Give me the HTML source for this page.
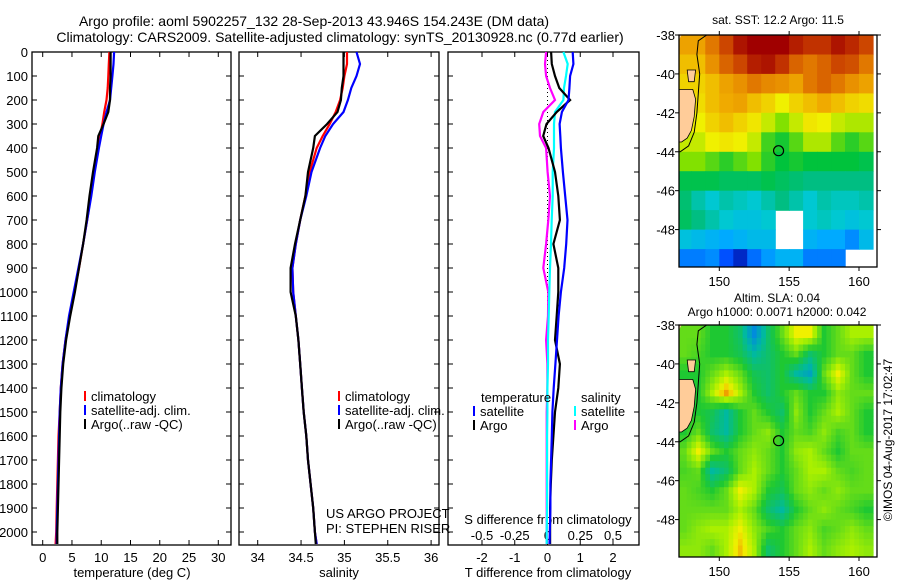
<!DOCTYPE html>
<html><head><meta charset="utf-8"><style>
body{margin:0;background:#fff;}
svg text{font-family:"Liberation Sans",sans-serif;fill:#000;}
</style></head><body>
<svg id="fig" width="900" height="580" viewBox="0 0 900 580" xmlns="http://www.w3.org/2000/svg">
<text x="314" y="26" font-size="14" text-anchor="middle">Argo profile: aoml 5902257_132 28-Sep-2013 43.946S 154.243E (DM data)</text>
<text x="340" y="42" font-size="14" text-anchor="middle">Climatology: CARS2009. Satellite-adjusted climatology: synTS_20130928.nc (0.77d earlier)</text>
<g id="g"></g>
</svg>
<script>
// ---- profile data ----
const depths=[0,50,100,150,200,250,300,350,400,500,600,700,800,900,1000,1100,1200,1300,1400,1500,1600,1700,1800,1900,2000,2050];
const tClim=[11.4,11.3,11.2,11.1,10.9,10.5,10.2,9.8,9.4,8.8,8.2,7.6,6.9,6.2,5.4,4.6,3.9,3.4,3.1,2.9,2.7,2.6,2.5,2.4,2.3,2.2];
const tSat=[12.2,12.1,11.9,11.7,11.5,10.9,10.4,10.0,9.6,8.9,8.3,7.6,6.9,6.1,5.3,4.5,3.9,3.4,3.1,2.9,2.8,2.7,2.6,2.5,2.4,2.4];
const tArgo=[11.6,11.6,11.6,11.5,11.5,11.2,10.4,9.5,9.3,8.6,8.0,7.5,6.9,6.2,5.5,4.7,4.0,3.5,3.2,3.0,2.9,2.8,2.7,2.6,2.5,2.5];
const sClim=[35.03,35.03,35.0,34.98,34.95,34.9,34.83,34.75,34.68,34.6,34.55,34.49,34.44,34.4,34.41,34.44,34.47,34.49,34.51,34.53,34.56,34.58,34.61,34.64,34.66,34.68];
const sSat=[35.14,35.18,35.14,35.08,35.04,34.99,34.87,34.78,34.72,34.62,34.56,34.49,34.44,34.4,34.41,34.44,34.47,34.49,34.51,34.53,34.56,34.58,34.61,34.64,34.66,34.68];
const sArgo=[34.99,34.99,34.99,34.97,34.96,34.92,34.80,34.66,34.64,34.58,34.55,34.49,34.43,34.38,34.38,34.44,34.47,34.49,34.51,34.53,34.56,34.58,34.61,34.64,34.66,34.67];
// ---- difference data ----
const dDepths=[0,50,100,150,200,250,300,350,400,500,600,700,800,900,1000,1100,1200,1300,1400,1500,1600,1700,1800,1900,2000,2050];
const dTSat=[0.77,0.79,0.69,0.67,0.64,0.44,0.37,0.39,0.41,0.47,0.54,0.61,0.57,0.51,0.41,0.34,0.29,0.24,0.19,0.15,0.13,0.11,0.09,0.09,0.07,0.06];
const dTArgo=[0.11,0.13,0.23,0.36,0.69,0.28,-0.03,-0.13,0.03,0.23,0.33,0.38,0.18,0.33,0.33,0.28,0.23,0.38,0.33,0.23,0.18,0.13,0.10,0.08,0.08,0.08];
const dSSat=[0.121,0.154,0.141,0.126,0.121,0.057,0.050,0.050,0.050,0.040,0.040,0.032,0.027,0.019,0.014,0.009,0.004,0.004,-0.001,-0.001,-0.003,-0.003,-0.003,-0.003,-0.006,-0.006];
const dSArgo=[-0.011,-0.019,-0.011,0.019,0.057,-0.032,-0.063,-0.057,-0.011,0.001,0.019,0.006,-0.011,-0.032,0.006,0.004,-0.011,-0.001,-0.001,-0.006,-0.006,-0.006,-0.006,-0.006,-0.006,-0.006];
// ---- map data ----
const mapLons=[147,148,149,150,151,152,153,154,155,156,157,158,159,160,161];
const mapLats=[-38,-39,-40,-41,-42,-43,-44,-45,-46,-47,-48,-49,-50];
const sst=[
[13.3,13.3,13.8,14.3,14.8,15,15,15,14.7,14.5,14.5,14.8,14.6,14.3],
[13,13,13.5,14,14.3,14.7,14.8,14.5,14,13.8,14,14.3,14.2,13.8],
[12.8,12.8,13,13.3,13.5,13.8,13.6,13.5,13.3,13.8,14,13.8,13.5,13.3],
[12.7,12.7,13,13.2,13.3,13,12.8,12.5,12.8,13,13.2,13,12.8,12.7],
[12.5,12.5,12.8,13,12.8,12.6,12.3,12,12.3,12.6,12.5,12.3,12.2,12.2],
[12.3,12.3,12.5,12.6,12.5,12.3,11.7,11.5,11.8,12.2,12.2,11.8,11.6,11.8],
[12,12,11.8,11.6,11.8,12,11.6,11.4,11.5,11.4,11.4,11.4,11.4,11.3],
[11.3,11.3,11.3,11.2,11.2,11.2,11.3,11.2,11.1,11,11,11,11,11],
[11.1,10.8,10.6,10.8,10.7,10.6,10.8,11,10.8,10.6,10.8,10.7,10.7,10.8],
[11.2,11,10.8,10.6,10.5,10.5,10.6,null,null,10.6,10.7,10.6,10.5,10.6],
[10.5,10.4,10.3,10.2,10.3,10.4,10.4,null,null,10.3,10.2,10.2,10,10.4],
[9.9,9.9,10,9.6,9.4,9.8,10.1,10.3,10.3,9.9,9.9,9.9,null,null]];
const sla=[
[0.5,0.5,0,0,-0.5,-2,-0.5,0.5,1.5,1.5,0,0.5,1,1],
[0.5,0.3,0,0,-0.3,-1,-0.5,0,0.5,-0.5,0,0.5,0.5,0],
[0,0,0.5,1,0.5,-0.3,-0.5,0,-1,-1.5,0.5,1.5,0.5,0],
[0,0,1,2,1,0,-0.5,0,0.5,0,0,0.8,0.5,0.5],
[0,0,-0.3,-1,0,0.5,0,-0.5,0.8,0,0.5,1,0.5,0],
[0,0.5,-0.5,-1,0,0.5,0.8,0,0.5,0.3,0.8,0.3,0.5,0],
[0.5,1.5,0.5,0,0.5,0.8,0.5,0,0.8,1,0.5,0,0.5,0.5],
[0.3,0.5,-1,-0.5,0.5,1,0.5,0,0.5,1,1,0.5,0.3,0.5],
[0.5,0.3,0,0.5,1.5,1,0,-0.3,0.5,0.8,0.5,0.8,0.5,0.5],
[0.5,0.5,0.5,0.5,1,0.5,-0.5,-1,0,0.5,0.8,0.5,0.3,0],
[0.5,0.8,1,1,1.5,0.8,0.3,0,0.5,0.8,0.3,0.5,0.8,0.5],
[0.8,0.8,0.5,1,1.8,1,-0.5,0,0.5,1,0.5,0.8,1,0.8]];
const argoLon=154.243, argoLat=-43.946;

const NS='http://www.w3.org/2000/svg';
const G=document.getElementById('g');
function mk(tag,at,parent){const e=document.createElementNS(NS,tag);for(const k in at)e.setAttribute(k,at[k]);(parent||G).appendChild(e);return e;}
function txt(x,y,s,anchor,size,parent){const t=mk('text',{x:x,y:y,'font-size':size||13,'text-anchor':anchor||'middle'},parent);t.textContent=s;return t;}

const pTop=52,pBot=545;
const dY=d=>pTop+d*0.24;

function panel(x0,x1,name){
  const g=mk('g',{});
  
  
  const r=mk('rect',{x:x0,y:pTop,width:x1-x0,height:pBot-pTop,fill:'none',stroke:'#000','stroke-width':1.3},g);
  
  
  for(let d=0;d<=2000;d+=100){
    mk('line',{x1:x0,x2:x0+5,y1:dY(d),y2:dY(d),stroke:'#000'},g);
    mk('line',{x1:x1-5,x2:x1,y1:dY(d),y2:dY(d),stroke:'#000'},g);
  }
  return g;
}
const ya=mk('g',{});


for(let d=0;d<=2000;d+=100){txt(28,dY(d)+5,String(d),'end',13,ya);}

function line(g,xs,ds,sx,col,w,name){
  const p=xs.map((v,i)=>(i?'L':'M')+sx(v).toFixed(1)+','+dY(ds[i]).toFixed(1)).join('');
  const e=mk('path',{d:p,fill:'none',stroke:col,'stroke-width':w},g);
  
  
}
function legend(g,x,y,col,label,name){
  mk('rect',{x:x,y:y-10,width:2,height:10,fill:col},g);
  const t=txt(x+7,y,label,'start',13,g);
  
  
}

// Panel 1 temperature
const p1=panel(32,231,'temperature-panel');
const sxT=v=>42.7+v*5.853;
[0,5,10,15,20,25,30].forEach(v=>{mk('line',{x1:sxT(v),x2:sxT(v),y1:pTop,y2:pTop+5,stroke:'#000'},p1);mk('line',{x1:sxT(v),x2:sxT(v),y1:pBot-5,y2:pBot,stroke:'#000'},p1);txt(sxT(v),562,String(v),'middle',13,p1);});
txt(132,577,'temperature (deg C)','middle',13,p1);
line(p1,tClim,depths,sxT,'#f00',2.2,'temperature-climatology-line');
line(p1,tSat,depths,sxT,'#00f',2.2,'temperature-satellite-line');
line(p1,tArgo,depths.slice(0,tArgo.length),sxT,'#000',2.2,'temperature-argo-line');
legend(p1,84,401,'#f00','climatology','legend-climatology');
legend(p1,84,415,'#00f','satellite-adj. clim.','legend-satellite');
legend(p1,84,429,'#000','Argo(..raw -QC)','legend-argo');

// Panel 2 salinity
const p2=panel(239,439,'salinity-panel');
const sxS=v=>257.7+(v-34)*86.7;
[34,34.5,35,35.5,36].forEach(v=>{mk('line',{x1:sxS(v),x2:sxS(v),y1:pTop,y2:pTop+5,stroke:'#000'},p2);mk('line',{x1:sxS(v),x2:sxS(v),y1:pBot-5,y2:pBot,stroke:'#000'},p2);txt(sxS(v),562,String(v),'middle',13,p2);});
txt(339,577,'salinity','middle',13,p2);
line(p2,sClim,depths,sxS,'#f00',2.2,'salinity-climatology-line');
line(p2,sSat,depths,sxS,'#00f',2.2,'salinity-satellite-line');
line(p2,sArgo,depths,sxS,'#000',2.2,'salinity-argo-line');
legend(p2,338,401,'#f00','climatology','legend-climatology-2');
legend(p2,338,415,'#00f','satellite-adj. clim.','legend-satellite-2');
legend(p2,338,429,'#000','Argo(..raw -QC)','legend-argo-2');
txt(326,518,'US ARGO PROJECT','start',13,p2);
txt(326,533,'PI: STEPHEN RISER','start',13,p2);

// Panel 3 differences
const p3=panel(448,639,'difference-panel');
const sxD=v=>547.5+v*32.75;
const sxDS=v=>547.5+v*131;
[-2,-1,0,1,2].forEach(v=>{mk('line',{x1:sxD(v),x2:sxD(v),y1:pTop,y2:pTop+5,stroke:'#000'},p3);mk('line',{x1:sxD(v),x2:sxD(v),y1:pBot-5,y2:pBot,stroke:'#000'},p3);txt(sxD(v),562,String(v),'middle',13,p3);});
['-0.5','-0.25','0','0.25','0.5'].forEach(s=>{txt(sxDS(parseFloat(s)),540,s,'middle',13,p3);});
txt(548,524,'S difference from climatology','middle',13,p3);
txt(548,577,'T difference from climatology','middle',13,p3);
mk('line',{x1:547.5,x2:547.5,y1:pTop,y2:dY(1400),stroke:'#000','stroke-dasharray':'1,3'},p3);
line(p3,dSArgo,dDepths,sxDS,'#f0f',2.2,'salinity-argo-difference-line');
line(p3,dSSat,dDepths,sxDS,'#0ff',2.2,'salinity-satellite-difference-line');
line(p3,dTArgo,dDepths,sxD,'#000',2.2,'temperature-argo-difference-line');
line(p3,dTSat,dDepths,sxD,'#00f',2.2,'temperature-satellite-difference-line');
txt(481,402,'temperature','start',13,p3);
legend(p3,473,416,'#00f','satellite','legend-temperature-satellite');
legend(p3,473,430,'#000','Argo','legend-temperature-argo');
txt(581,402,'salinity','start',13,p3);
legend(p3,574,416,'#0ff','satellite','legend-salinity-satellite');
legend(p3,574,430,'#f0f','Argo','legend-salinity-argo');

// ---- maps ----
function lerpCol(stops,v){
  if(v<=stops[0][0])return stops[0][1];
  for(let i=1;i<stops.length;i++){if(v<=stops[i][0]){const a=stops[i-1],b=stops[i];const t=(v-a[0])/(b[0]-a[0]);return a[1].map((x,k)=>Math.round(x+(b[1][k]-x)*t));}}
  return stops[stops.length-1][1];
}
const sstStops=[[9.2,[0,0,140]],[9.6,[0,80,255]],[10.2,[0,170,255]],[10.6,[0,200,210]],[11.0,[0,190,130]],[11.4,[0,195,60]],[12.0,[130,225,0]],[12.5,[240,240,0]],[13.2,[240,170,0]],[13.8,[225,120,0]],[14.4,[200,60,0]],[15,[160,0,0]]];
const slaStops=[[-2,[0,140,220]],[-1,[0,185,160]],[0,[30,200,50]],[1,[170,240,0]],[1.5,[240,240,0]],[2,[240,160,0]]];

// bilinear sample of grid at fractional cell coords (cell centres at i+0.5)
function sample(grid,fi,fj){
  const R=grid.length,C=grid[0].length;
  const i=Math.min(Math.max(fi-0.5,0),R-1),j=Math.min(Math.max(fj-0.5,0),C-1);
  const i0=Math.floor(i),j0=Math.floor(j),i1=Math.min(i0+1,R-1),j1=Math.min(j0+1,C-1);
  const a=i-i0,b=j-j0;
  return grid[i0][j0]*(1-a)*(1-b)+grid[i0][j1]*(1-a)*b+grid[i1][j0]*a*(1-b)+grid[i1][j1]*a*b;
}

function map(y0,grid,stops,name,gridName,sub){
  const x0=679,x1=877,y1=y0+232;
  const lx=l=>719.3+(l-150)*13.97;
  const ly=l=>y0+(-38-l)*19.46;
  const g=mk('g',{});
  
  
  const cp=mk('clipPath',{id:'c'+y0},g);
  mk('rect',{x:x0,y:y0,width:x1-x0,height:y1-y0},cp);
  const cells=mk('g',{'clip-path':'url(#c'+y0+')'},g);
  grid.forEach((row,i)=>row.forEach((v,j)=>{
    if(v===null)return;
    const xa=lx(mapLons[j]),xb=lx(mapLons[j+1]),ya2=ly(mapLats[i]),yb=ly(mapLats[i+1]);
    const w=(xb-xa)/sub,h=(yb-ya2)/sub;
    for(let a=0;a<sub;a++)for(let b=0;b<sub;b++){
      const val=sub>1?sample(grid,i+(a+0.5)/sub,j+(b+0.5)/sub):v;
      const c=lerpCol(stops,val);
      const r=mk('rect',{x:(xa+b*w).toFixed(1),y:(ya2+a*h).toFixed(1),width:(w+0.6).toFixed(1),height:(h+0.6).toFixed(1),fill:'rgb('+c.join(',')+')'},cells);
      
      
    }
  }));
  const land=[[147,-40.8],[148.1,-40.8],[148.3,-41.3],[148.2,-42.2],[148.0,-42.9],[147.7,-43.3],[147.3,-43.5],[147,-43.5]];
  const lp=mk('polygon',{points:land.map(p=>lx(p[0]).toFixed(1)+','+ly(p[1]).toFixed(1)).join(' '),fill:'#ffcc99',stroke:'#000','stroke-width':0.8},cells);
  
  
  mk('polygon',{points:[[147.7,-39.8],[148.3,-39.8],[148.2,-40.4],[147.8,-40.4]].map(p=>lx(p[0]).toFixed(1)+','+ly(p[1]).toFixed(1)).join(' '),fill:'#ffcc99',stroke:'#000','stroke-width':0.8},cells);
  mk('polygon',{points:[[147,-38],[147.3,-38],[147,-38.4]].map(p=>lx(p[0]).toFixed(1)+','+ly(p[1]).toFixed(1)).join(' '),fill:'#ffcc99'},cells);
  const coast=[[149.1,-38],[148.5,-38.3],[148.4,-39],[148.6,-40],[148.5,-41],[148.4,-42],[148.2,-43],[147.8,-43.7],[147.2,-44],[147,-44]];
  mk('path',{d:coast.map((p,i)=>(i?'L':'M')+lx(p[0]).toFixed(1)+','+ly(p[1]).toFixed(1)).join(''),fill:'none',stroke:'#000','stroke-width':1},cells);
  const m=mk('circle',{cx:lx(argoLon),cy:ly(argoLat),r:5,fill:'none',stroke:'#000','stroke-width':1.2},g);
  
  
  mk('rect',{x:x0,y:y0,width:x1-x0,height:y1-y0,fill:'none',stroke:'#000','stroke-width':1.3},g);
  [150,155,160].forEach(l=>{mk('line',{x1:lx(l),x2:lx(l),y1:y0-4,y2:y0,stroke:'#000'},g);mk('line',{x1:lx(l),x2:lx(l),y1:y1,y2:y1+4,stroke:'#000'},g);txt(lx(l),y1+19,String(l),'middle',13,g);});
  [-38,-40,-42,-44,-46,-48].forEach(l=>{mk('line',{x1:x0-4,x2:x0,y1:ly(l),y2:ly(l),stroke:'#000'},g);mk('line',{x1:x1,x2:x1+4,y1:ly(l),y2:ly(l),stroke:'#000'},g);txt(x0-4,ly(l)+5,String(l),'end',13,g);});
}
map(35,sst,sstStops,'sst-map','sst-cell',1);
map(325,sla,slaStops,'sla-map','sla-cell',3);
txt(778,24,'sat. SST: 12.2 Argo: 11.5','middle',12);
txt(777,302,'Altim. SLA: 0.04','middle',12);
txt(777,316,'Argo h1000: 0.0071 h2000: 0.042','middle',12);
const cr=txt(0,0,'\u00A9IMOS 04-Aug-2017 17:02:47','middle',12);
cr.setAttribute('transform','translate(892,440) rotate(-90)');


</script>
</body></html>
